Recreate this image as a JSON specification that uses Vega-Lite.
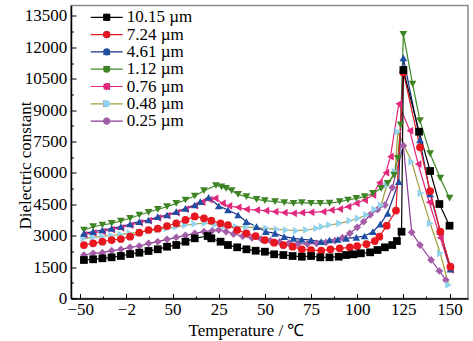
{
"$schema": "https://vega.github.io/schema/vega-lite/v6.json",
"width": 397, "height": 293,
"autosize": "none",
"padding": {"left": 71, "top": 5.5, "right": 5, "bottom": 42.5},
"background": "white",
"config": {
  "view": {"stroke": "#8a8a8a", "strokeWidth": 1.5},
  "font": "Liberation Serif",
  "legend": {"labelFont": "Liberation Serif", "labelFontSize": 17, "labelColor": "black"},
  "axis": {"grid": false, "labelFont": "Liberation Serif", "labelFontSize": 17, "labelColor": "black", "titleFont": "Liberation Serif", "titleFontSize": 17, "titleFontWeight": "normal", "titleColor": "black", "tickColor": "black", "domainColor": "black", "domainWidth": 1.5, "tickWidth": 1}
},
"data": {"values": [
{"s":"0.25 µm","t":-48,"v":2078},{"s":"0.25 µm","t":-43,"v":2160},{"s":"0.25 µm","t":-38,"v":2188},{"s":"0.25 µm","t":-33,"v":2284},{"s":"0.25 µm","t":-28,"v":2351},{"s":"0.25 µm","t":-23,"v":2446},{"s":"0.25 µm","t":-18,"v":2508},{"s":"0.25 µm","t":-13,"v":2637},{"s":"0.25 µm","t":-8,"v":2714},{"s":"0.25 µm","t":-3,"v":2828},{"s":"0.25 µm","t":2,"v":2924},{"s":"0.25 µm","t":7,"v":3020},{"s":"0.25 µm","t":12,"v":3115},{"s":"0.25 µm","t":17,"v":3192},{"s":"0.25 µm","t":21.5,"v":3240},{"s":"0.25 µm","t":25,"v":3273},{"s":"0.25 µm","t":29,"v":3192},{"s":"0.25 µm","t":33,"v":3080},{"s":"0.25 µm","t":38,"v":2980},{"s":"0.25 µm","t":43,"v":2900},{"s":"0.25 µm","t":48,"v":2840},{"s":"0.25 µm","t":53,"v":2760},{"s":"0.25 µm","t":58,"v":2700},{"s":"0.25 µm","t":63,"v":2650},{"s":"0.25 µm","t":68,"v":2620},{"s":"0.25 µm","t":73,"v":2610},{"s":"0.25 µm","t":78,"v":2630},{"s":"0.25 µm","t":83,"v":2680},{"s":"0.25 µm","t":88,"v":2760},{"s":"0.25 µm","t":92,"v":2900},{"s":"0.25 µm","t":96,"v":3115},{"s":"0.25 µm","t":100,"v":3400},{"s":"0.25 µm","t":103.5,"v":3670},{"s":"0.25 µm","t":107,"v":3990},{"s":"0.25 µm","t":111,"v":4250},{"s":"0.25 µm","t":115,"v":4467},{"s":"0.25 µm","t":119,"v":5300},{"s":"0.25 µm","t":125,"v":7300},{"s":"0.25 µm","t":129.5,"v":3163},{"s":"0.25 µm","t":134,"v":2556},{"s":"0.25 µm","t":140,"v":1840},{"s":"0.25 µm","t":144.5,"v":1314},{"s":"0.25 µm","t":148,"v":884},
{"s":"0.48 µm","t":-48,"v":2876},{"s":"0.48 µm","t":-43,"v":2920},{"s":"0.48 µm","t":-38,"v":2970},{"s":"0.48 µm","t":-33,"v":3010},{"s":"0.48 µm","t":-28,"v":3060},{"s":"0.48 µm","t":-23,"v":3110},{"s":"0.48 µm","t":-18,"v":3170},{"s":"0.48 µm","t":-13,"v":3230},{"s":"0.48 µm","t":-8,"v":3290},{"s":"0.48 µm","t":-3,"v":3350},{"s":"0.48 µm","t":2,"v":3420},{"s":"0.48 µm","t":7,"v":3500},{"s":"0.48 µm","t":12,"v":3560},{"s":"0.48 µm","t":17.5,"v":3600},{"s":"0.48 µm","t":23,"v":3530},{"s":"0.48 µm","t":28.5,"v":3464},{"s":"0.48 µm","t":34.5,"v":3430},{"s":"0.48 µm","t":40,"v":3420},{"s":"0.48 µm","t":45.5,"v":3370},{"s":"0.48 µm","t":51,"v":3354},{"s":"0.48 µm","t":56.5,"v":3306},{"s":"0.48 µm","t":61.5,"v":3273},{"s":"0.48 µm","t":67,"v":3240},{"s":"0.48 µm","t":72.5,"v":3273},{"s":"0.48 µm","t":78,"v":3354},{"s":"0.48 µm","t":81,"v":3430},{"s":"0.48 µm","t":85,"v":3512},{"s":"0.48 µm","t":90.5,"v":3593},{"s":"0.48 µm","t":96,"v":3717},{"s":"0.48 µm","t":100.5,"v":3832},{"s":"0.48 µm","t":105,"v":3990},{"s":"0.48 µm","t":109.5,"v":4262},{"s":"0.48 µm","t":113,"v":4467},{"s":"0.48 µm","t":116,"v":5423},{"s":"0.48 µm","t":120.5,"v":6058},{"s":"0.48 µm","t":122,"v":7970},{"s":"0.48 µm","t":129.5,"v":6536},{"s":"0.48 µm","t":134.5,"v":5026},{"s":"0.48 µm","t":139.5,"v":3593},{"s":"0.48 µm","t":145,"v":2160},{"s":"0.48 µm","t":149.5,"v":645},
{"s":"0.76 µm","t":-48,"v":3050},{"s":"0.76 µm","t":-43,"v":3130},{"s":"0.76 µm","t":-38,"v":3200},{"s":"0.76 µm","t":-33,"v":3290},{"s":"0.76 µm","t":-28,"v":3380},{"s":"0.76 µm","t":-23,"v":3500},{"s":"0.76 µm","t":-18,"v":3620},{"s":"0.76 µm","t":-13,"v":3720},{"s":"0.76 µm","t":-8,"v":3850},{"s":"0.76 µm","t":-3,"v":3960},{"s":"0.76 µm","t":2,"v":4100},{"s":"0.76 µm","t":7,"v":4270},{"s":"0.76 µm","t":12,"v":4440},{"s":"0.76 µm","t":16,"v":4600},{"s":"0.76 µm","t":20,"v":4720},{"s":"0.76 µm","t":23,"v":4787},{"s":"0.76 µm","t":27,"v":4550},{"s":"0.76 µm","t":30.5,"v":4420},{"s":"0.76 µm","t":35.5,"v":4357},{"s":"0.76 µm","t":40,"v":4262},{"s":"0.76 µm","t":45.5,"v":4228},{"s":"0.76 µm","t":50.5,"v":4195},{"s":"0.76 µm","t":55.5,"v":4147},{"s":"0.76 µm","t":60.5,"v":4100},{"s":"0.76 µm","t":65.5,"v":4071},{"s":"0.76 µm","t":70,"v":4100},{"s":"0.76 µm","t":75,"v":4119},{"s":"0.76 µm","t":81.5,"v":4147},{"s":"0.76 µm","t":86,"v":4228},{"s":"0.76 µm","t":90.5,"v":4276},{"s":"0.76 µm","t":95,"v":4386},{"s":"0.76 µm","t":99.5,"v":4548},{"s":"0.76 µm","t":104,"v":4706},{"s":"0.76 µm","t":108.5,"v":4945},{"s":"0.76 µm","t":112,"v":5533},{"s":"0.76 µm","t":115.5,"v":6011},{"s":"0.76 µm","t":118,"v":6775},{"s":"0.76 µm","t":122.5,"v":9300},{"s":"0.76 µm","t":128.5,"v":8017},{"s":"0.76 µm","t":133,"v":6426},{"s":"0.76 µm","t":139,"v":4600},{"s":"0.76 µm","t":145,"v":2900},{"s":"0.76 µm","t":150.5,"v":1362},
{"s":"1.12 µm","t":-48,"v":3273},{"s":"1.12 µm","t":-43,"v":3430},{"s":"1.12 µm","t":-38,"v":3512},{"s":"1.12 µm","t":-33,"v":3593},{"s":"1.12 µm","t":-28,"v":3703},{"s":"1.12 µm","t":-23,"v":3832},{"s":"1.12 µm","t":-18,"v":3990},{"s":"1.12 µm","t":-13,"v":4119},{"s":"1.12 µm","t":-8,"v":4262},{"s":"1.12 µm","t":-3,"v":4386},{"s":"1.12 µm","t":2,"v":4548},{"s":"1.12 µm","t":7,"v":4706},{"s":"1.12 µm","t":12,"v":4897},{"s":"1.12 µm","t":17,"v":5150},{"s":"1.12 µm","t":23.5,"v":5400},{"s":"1.12 µm","t":26.5,"v":5330},{"s":"1.12 µm","t":29,"v":5265},{"s":"1.12 µm","t":32,"v":5150},{"s":"1.12 µm","t":35.5,"v":4978},{"s":"1.12 µm","t":40,"v":4864},{"s":"1.12 µm","t":45.5,"v":4740},{"s":"1.12 µm","t":50,"v":4673},{"s":"1.12 µm","t":55.5,"v":4625},{"s":"1.12 µm","t":60.5,"v":4577},{"s":"1.12 µm","t":65.5,"v":4548},{"s":"1.12 µm","t":70,"v":4577},{"s":"1.12 µm","t":75,"v":4548},{"s":"1.12 µm","t":80,"v":4548},{"s":"1.12 µm","t":85,"v":4560},{"s":"1.12 µm","t":90.5,"v":4625},{"s":"1.12 µm","t":95,"v":4706},{"s":"1.12 µm","t":99.5,"v":4787},{"s":"1.12 µm","t":104,"v":4864},{"s":"1.12 µm","t":108.5,"v":5026},{"s":"1.12 µm","t":113,"v":5265},{"s":"1.12 µm","t":116.5,"v":5504},{"s":"1.12 µm","t":120,"v":5900},{"s":"1.12 µm","t":122,"v":6700},{"s":"1.12 µm","t":123.5,"v":8300},{"s":"1.12 µm","t":125,"v":12623},{"s":"1.12 µm","t":130,"v":10250},{"s":"1.12 µm","t":134,"v":8495},{"s":"1.12 µm","t":139.5,"v":6920},{"s":"1.12 µm","t":145,"v":5750},{"s":"1.12 µm","t":150,"v":4800},
{"s":"4.61 µm","t":-48,"v":3115},{"s":"4.61 µm","t":-43,"v":3193},{"s":"4.61 µm","t":-38,"v":3273},{"s":"4.61 µm","t":-33,"v":3354},{"s":"4.61 µm","t":-28,"v":3430},{"s":"4.61 µm","t":-23,"v":3560},{"s":"4.61 µm","t":-18,"v":3670},{"s":"4.61 µm","t":-13,"v":3751},{"s":"4.61 µm","t":-8,"v":3908},{"s":"4.61 µm","t":-3,"v":3990},{"s":"4.61 µm","t":2,"v":4147},{"s":"4.61 µm","t":7,"v":4310},{"s":"4.61 µm","t":12,"v":4467},{"s":"4.61 µm","t":15,"v":4625},{"s":"4.61 µm","t":19.5,"v":4835},{"s":"4.61 µm","t":25,"v":4420},{"s":"4.61 µm","t":30,"v":4228},{"s":"4.61 µm","t":35.5,"v":3990},{"s":"4.61 µm","t":40,"v":3670},{"s":"4.61 µm","t":45.5,"v":3430},{"s":"4.61 µm","t":50.5,"v":3192},{"s":"4.61 µm","t":55.5,"v":3115},{"s":"4.61 µm","t":60.5,"v":2953},{"s":"4.61 µm","t":65.5,"v":2876},{"s":"4.61 µm","t":70,"v":2828},{"s":"4.61 µm","t":75,"v":2795},{"s":"4.61 µm","t":80.5,"v":2714},{"s":"4.61 µm","t":85,"v":2795},{"s":"4.61 µm","t":89.5,"v":2828},{"s":"4.61 µm","t":94,"v":2876},{"s":"4.61 µm","t":99.5,"v":2924},{"s":"4.61 µm","t":104,"v":2986},{"s":"4.61 µm","t":108.5,"v":3192},{"s":"4.61 µm","t":112.5,"v":3550},{"s":"4.61 µm","t":116.5,"v":4071},{"s":"4.61 µm","t":122.5,"v":5580},{"s":"4.61 µm","t":125,"v":11500},{"s":"4.61 µm","t":134,"v":7573},{"s":"4.61 µm","t":139.5,"v":5000},{"s":"4.61 µm","t":145,"v":3200},{"s":"4.61 µm","t":150.5,"v":1400},
{"s":"7.24 µm","t":-48,"v":2556},{"s":"7.24 µm","t":-43,"v":2637},{"s":"7.24 µm","t":-38,"v":2714},{"s":"7.24 µm","t":-33,"v":2795},{"s":"7.24 µm","t":-28,"v":2843},{"s":"7.24 µm","t":-23,"v":2953},{"s":"7.24 µm","t":-18,"v":3144},{"s":"7.24 µm","t":-13,"v":3273},{"s":"7.24 µm","t":-8,"v":3335},{"s":"7.24 µm","t":-3,"v":3464},{"s":"7.24 µm","t":2,"v":3593},{"s":"7.24 µm","t":7,"v":3751},{"s":"7.24 µm","t":12,"v":3920},{"s":"7.24 µm","t":17,"v":3830},{"s":"7.24 µm","t":21,"v":3720},{"s":"7.24 µm","t":26,"v":3593},{"s":"7.24 µm","t":30,"v":3512},{"s":"7.24 µm","t":35,"v":3273},{"s":"7.24 µm","t":40,"v":3115},{"s":"7.24 µm","t":45,"v":2986},{"s":"7.24 µm","t":50,"v":2795},{"s":"7.24 µm","t":55,"v":2666},{"s":"7.24 µm","t":60,"v":2556},{"s":"7.24 µm","t":65,"v":2475},{"s":"7.24 µm","t":70,"v":2351},{"s":"7.24 µm","t":75,"v":2317},{"s":"7.24 µm","t":80.5,"v":2284},{"s":"7.24 µm","t":85.5,"v":2351},{"s":"7.24 µm","t":90.5,"v":2398},{"s":"7.24 µm","t":96,"v":2446},{"s":"7.24 µm","t":100,"v":2508},{"s":"7.24 µm","t":105,"v":2604},{"s":"7.24 µm","t":109.5,"v":2747},{"s":"7.24 µm","t":112,"v":2953},{"s":"7.24 µm","t":116,"v":3480},{"s":"7.24 µm","t":121,"v":4200},{"s":"7.24 µm","t":125,"v":10800},{"s":"7.24 µm","t":134,"v":7224},{"s":"7.24 µm","t":139.5,"v":5136},{"s":"7.24 µm","t":145,"v":3192},{"s":"7.24 µm","t":150.5,"v":1519},
{"s":"10.15 µm","t":-48,"v":1840},{"s":"10.15 µm","t":-43,"v":1873},{"s":"10.15 µm","t":-38,"v":1921},{"s":"10.15 µm","t":-33,"v":1968},{"s":"10.15 µm","t":-28,"v":2031},{"s":"10.15 µm","t":-23,"v":2126},{"s":"10.15 µm","t":-18,"v":2188},{"s":"10.15 µm","t":-13,"v":2270},{"s":"10.15 µm","t":-8,"v":2351},{"s":"10.15 µm","t":-3,"v":2475},{"s":"10.15 µm","t":2,"v":2556},{"s":"10.15 µm","t":7,"v":2714},{"s":"10.15 µm","t":12,"v":2876},{"s":"10.15 µm","t":19,"v":2986},{"s":"10.15 µm","t":21,"v":2876},{"s":"10.15 µm","t":26,"v":2714},{"s":"10.15 µm","t":30,"v":2556},{"s":"10.15 µm","t":35,"v":2446},{"s":"10.15 µm","t":40,"v":2351},{"s":"10.15 µm","t":45,"v":2284},{"s":"10.15 µm","t":50,"v":2236},{"s":"10.15 µm","t":55,"v":2112},{"s":"10.15 µm","t":60,"v":2078},{"s":"10.15 µm","t":65,"v":2031},{"s":"10.15 µm","t":70,"v":1997},{"s":"10.15 µm","t":75,"v":2031},{"s":"10.15 µm","t":80,"v":1968},{"s":"10.15 µm","t":85,"v":1968},{"s":"10.15 µm","t":90,"v":1997},{"s":"10.15 µm","t":94,"v":2078},{"s":"10.15 µm","t":98,"v":2112},{"s":"10.15 µm","t":102,"v":2160},{"s":"10.15 µm","t":107,"v":2207},{"s":"10.15 µm","t":111,"v":2317},{"s":"10.15 µm","t":115,"v":2446},{"s":"10.15 µm","t":119,"v":2556},{"s":"10.15 µm","t":121.5,"v":2747},{"s":"10.15 µm","t":124,"v":3192},{"s":"10.15 µm","t":125,"v":10917},{"s":"10.15 µm","t":133.5,"v":7970},{"s":"10.15 µm","t":139.5,"v":6092},{"s":"10.15 µm","t":144.5,"v":4515},{"s":"10.15 µm","t":150,"v":3478}
]},
"layer": [
  {
    "mark": {"type": "line", "strokeWidth": 1.2},
    "encoding": {
      "x": {"field": "t", "type": "quantitative", "scale": {"domain": [-55, 160], "nice": false, "zero": false},
        "axis": {"orient": "bottom", "values": [-50,-25,0,25,50,75,100,125,150], "labelExpr": "datum.value == -25 ? '−2' : datum.value == 0 ? '50' : datum.value < 0 ? '−' + abs(datum.value) : '' + datum.value", "tickSize": -5, "labelPadding": 7.5, "labelFlush": false, "labelOverlap": false, "title": "Temperature / ℃", "titleX": 175, "titleY": 36.5, "titleBaseline": "alphabetic", "titleAnchor": "middle"}},
      "y": {"field": "v", "type": "quantitative", "scale": {"domain": [0, 14000], "nice": false, "zero": true},
        "axis": {"orient": "left", "values": [0,1500,3000,4500,6000,7500,9000,10500,12000,13500], "format": "d", "tickSize": -5, "labelPadding": 9.3, "labelFlush": false, "labelOverlap": false, "title": "Dielectric constant", "titleX": -45.5, "titleY": 159.5, "titleBaseline": "middle", "titleAnchor": "middle", "titleAngle": -90}},
      "stroke": {"field": "s", "type": "nominal",
        "scale": {"domain": ["10.15 µm","7.24 µm","4.61 µm","1.12 µm","0.76 µm","0.48 µm","0.25 µm"], "range": ["#000000","#e8161e","#1b2f86","#3e8a26","#e2287c","#a39c3c","#8a3c96"]},
        "legend": {"orient": "none", "legendX": 27.2, "legendY": 3.3, "title": null, "padding": 0, "symbolType": "M-4,0H4", "symbolSize": 64, "symbolStrokeWidth": 1.2, "symbolFillColor": "transparent", "labelFont": "Liberation Serif", "labelFontSize": 17, "labelColor": "black", "labelOffset": 11.5, "rowPadding": -0.7, "labelBaseline": "middle"}}
    }
  },
  {
    "mark": {"type": "point", "filled": true, "opacity": 1, "size": 60, "strokeWidth": 0},
    "encoding": {
      "x": {"field": "t", "type": "quantitative",
        "axis": {"orient": "bottom", "values": [-37.5,-12.5,12.5,37.5,62.5,87.5,112.5,137.5], "tickSize": -2.5, "labels": false, "domain": false, "title": null}},
      "y": {"field": "v", "type": "quantitative",
        "axis": {"orient": "left", "values": [750,2250,3750,5250,6750,8250,9750,11250,12750], "tickSize": -2.5, "labels": false, "domain": false, "title": null}},
      "fill": {"field": "s", "type": "nominal", "sort": ["10.15 µm","7.24 µm","4.61 µm","1.12 µm","0.76 µm","0.48 µm","0.25 µm"],
        "scale": {"range": ["#000000","#e8161e","#1f4fa3","#3f8424","#e2287c","#92d3ee","#a45ea8"]},
        "legend": {"orient": "none", "legendX": 27.2, "legendY": 3.3, "title": null, "padding": 0, "symbolSize": 50, "symbolStrokeWidth": 0, "symbolOpacity": 1, "labelFont": "Liberation Serif", "labelFontSize": 17, "labelExpr": "' '", "labelOffset": 11.5, "rowPadding": -0.7, "labelBaseline": "middle"}},
      "shape": {"field": "s", "type": "nominal", "sort": ["10.15 µm","7.24 µm","4.61 µm","1.12 µm","0.76 µm","0.48 µm","0.25 µm"],
        "scale": {"range": ["square","circle","triangle-up","triangle-down","triangle-left","triangle-right","diamond"]},
        "legend": {"orient": "none", "legendX": 27.2, "legendY": 3.3, "title": null, "padding": 0, "symbolSize": 50, "symbolStrokeWidth": 0, "symbolOpacity": 1, "labelFont": "Liberation Serif", "labelFontSize": 17, "labelExpr": "' '", "labelOffset": 11.5, "rowPadding": -0.7, "labelBaseline": "middle"}}
    }
  }
],
"resolve": {"axis": {"x": "independent", "y": "independent"}}
}
